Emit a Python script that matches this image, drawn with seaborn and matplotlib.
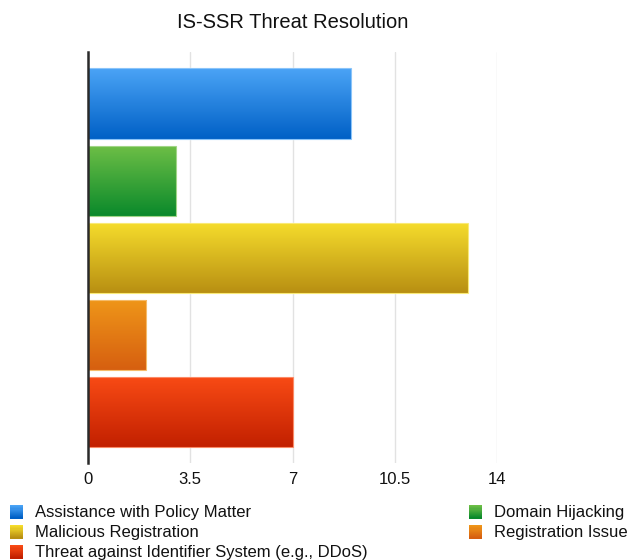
import numpy as np
import pandas as pd
import matplotlib
matplotlib.use("Agg")
import matplotlib.pyplot as plt
import seaborn as sns
from matplotlib.colors import LinearSegmentedColormap, to_rgb
from matplotlib.patches import Rectangle

categories = [
    "Assistance with Policy Matter",
    "Domain Hijacking",
    "Malicious Registration",
    "Registration Issue",
    "Threat against Identifier System (e.g., DDoS)",
]
counts = [9, 3, 13, 2, 7]
x_ticks = [0, 3.5, 7, 10.5, 14]
x_tick_labels = ["0", "3.5", "7", "10.5", "14"]
title = "IS-SSR Threat Resolution"

# top / bottom colours of each bar's vertical gradient
grad_top = ["#4ba4f6", "#6ebf46", "#f6dd2c", "#ef9619", "#f94b15"]
grad_bottom = ["#0060c6", "#0a892b", "#b88f12", "#d65f10", "#c22000"]


def mix(c1, c2, t):
    a, b = np.array(to_rgb(c1)), np.array(to_rgb(c2))
    return tuple(a + (b - a) * t)


mid_colors = [mix(t, b, 0.5) for t, b in zip(grad_top, grad_bottom)]

sns.set_theme(style="white")
plt.rcParams["font.family"] = ["Liberation Sans", "DejaVu Sans"]

df = pd.DataFrame({"category": categories, "count": counts})

W, H = 629, 560
fig = plt.figure(figsize=(W / 100, H / 100), dpi=100)
ax = fig.add_axes([88 / W, (H - 463) / H, (497 - 88) / W, (463 - 52) / H])

sns.barplot(
    data=df, x="count", y="category", hue="category", palette=mid_colors,
    orient="h", width=0.91, legend=False, ax=ax, saturation=1,
)

ylim = (4 + 51 / 77, -51.5 / 77)
ax.set_xlim(0, 14)
ax.set_ylim(*ylim)

# replace each flat bar with a vertical gradient clipped to the bar
for patch, top, bottom in zip(ax.patches, grad_top, grad_bottom):
    x0, y0 = patch.get_x(), patch.get_y()
    w, h = patch.get_width(), patch.get_height()
    cmap = LinearSegmentedColormap.from_list("g", [top, bottom])
    grad = np.linspace(0, 1, 256).reshape(-1, 1)
    im = ax.imshow(grad, cmap=cmap, aspect="auto", origin="upper",
                   extent=[x0, x0 + w, y0 + h, y0], zorder=patch.get_zorder() + 0.1,
                   interpolation="bilinear")
    im.set_clip_path(patch)
    edge = Rectangle((x0, y0), w, h, fill=False, edgecolor=mix(top, "white", 0.35),
                     linewidth=0.8, zorder=patch.get_zorder() + 0.2)
    ax.add_patch(edge)

ax.set_xlim(0, 14)
ax.set_ylim(*ylim)

ax.set_xticks(x_ticks)
ax.set_xticklabels(x_tick_labels, fontsize=12, color="#111111")
ax.tick_params(axis="x", length=0, pad=6.5)
ax.set_yticks([])
ax.set_xlabel("")
ax.set_ylabel("")
ax.xaxis.grid(True, color="#e2e2e2", linewidth=1)
ax.set_axisbelow(True)
for s in ["top", "right", "bottom"]:
    ax.spines[s].set_visible(False)
ax.spines["left"].set_color("#2a2a2a")
ax.spines["left"].set_linewidth(1.8)
ax.spines["left"].set_zorder(5)

fig.text(293 / W, 1 - 22 / H, title, ha="center", va="center", fontsize=14.5,
         color="#111111")

# legend: two columns, squares with the same gradient as the bars
legend_slots = [  # (category index, square left px, row centre px)
    (0, 10, 512), (1, 469, 512),
    (2, 10, 532), (3, 469, 532),
    (4, 10, 552),
]
sq = 13
for idx, left, yc in legend_slots:
    n = 12
    for i in range(n):
        t = i / (n - 1)
        fig.patches.append(Rectangle(
            (left / W, 1 - (yc - sq / 2 + sq * (i + 1) / n) / H), sq / W, (sq / n + 0.3) / H,
            transform=fig.transFigure, facecolor=mix(grad_top[idx], grad_bottom[idx], t),
            edgecolor="none"))
    fig.text((left + sq + 12) / W, 1 - yc / H, categories[idx], ha="left", va="center",
             fontsize=12, color="#111111")

fig.savefig("out.png", dpi=100)
